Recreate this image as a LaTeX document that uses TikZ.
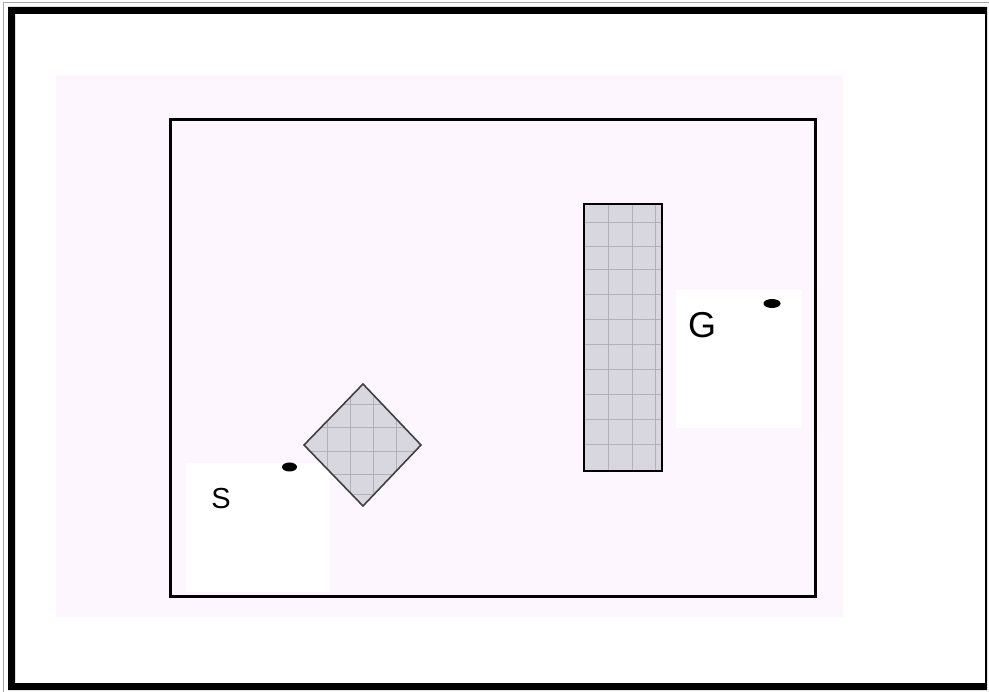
\documentclass[tikz,border=0pt]{standalone}
\usepackage{fontspec}
\setmainfont{Liberation Sans}
\usetikzlibrary{shapes.geometric}
\definecolor{bgpink}{RGB}{254,246,254}
\definecolor{obsfill}{RGB}{216,214,222}
\definecolor{gridln}{RGB}{178,176,184}
\begin{document}
\begin{tikzpicture}[x=1pt,y=-1pt,
  obstacle/.style={fill=obsfill,draw=black,line width=1.6pt},
  gridline/.style={draw=gridln,line width=1pt},
  robotdot/.style={fill=black,ellipse,inner sep=0pt}]
\useasboundingbox (0,0) rectangle (989,692);
\fill[white] (0,0) rectangle (989,692);
% outer frame
\draw[gray!70,line width=1pt] (3,692) -- (3,3) -- (989,3);
\fill[black,even odd rule] (8,7) rectangle (987,690) (15,14) rectangle (985,683);
% pink background
\fill[bgpink] (56,75) rectangle (843,617);
% white patches
\fill[white] (186,463) rectangle (330,592);
\fill[white] (676,290) rectangle (802,428);
% workspace
\draw[line width=3pt,black] (170,120) rectangle (815,597);
% rectangle obstacle
\fill[obsfill] (584,204) rectangle (662,471);
\begin{scope}
\clip (584,204) rectangle (662,471);
\foreach \x in {608,632,655} \draw[gridline] (\x,204) -- (\x,471);
\foreach \y in {223,247,270,295,320,345,370,395,420,445} \draw[gridline] (584,\y) -- (662,\y);
\end{scope}
\draw[line width=1.8pt,black] (584,204) rectangle (662,471);
% diamond obstacle
\coordinate (dt) at (363,384);
\coordinate (dr) at (421,445);
\coordinate (db) at (363,506);
\coordinate (dl) at (304,445);
\fill[obsfill] (dt) -- (dr) -- (db) -- (dl) -- cycle;
\begin{scope}
\clip (dt) -- (dr) -- (db) -- (dl) -- cycle;
\foreach \x in {327,350,373,396} \draw[gridline] (\x,384) -- (\x,506);
\foreach \y in {405,428,452,475,495} \draw[gridline] (304,\y) -- (421,\y);
\end{scope}
\draw[line width=1.6pt,black!75] (dt) -- (dr) -- (db) -- (dl) -- cycle;
% start and goal
\node[robotdot,minimum width=15pt,minimum height=9pt] (sdot) at (289.5,467) {};
\node[robotdot,minimum width=17pt,minimum height=9pt] (gdot) at (772,303.5) {};
\node[font=\fontsize{29}{30}\selectfont,inner sep=0pt] (slabel) at (221,499) {S};
\node[font=\fontsize{36}{38}\selectfont,inner sep=0pt] (glabel) at (702,325) {G};
\end{tikzpicture}
\end{document}
